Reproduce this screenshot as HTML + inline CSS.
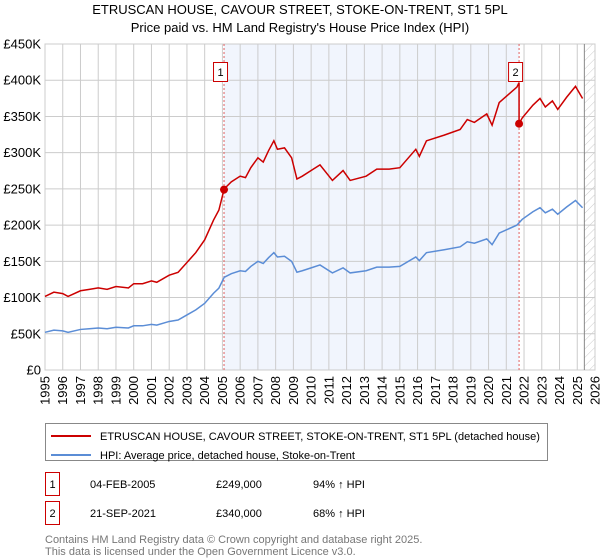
<!DOCTYPE html>
<html><head><meta charset="utf-8"><style>
body{margin:0;background:#fff;font-family:"Liberation Sans","DejaVu Sans",sans-serif;}
#wrap{position:relative;width:600px;height:560px;overflow:hidden}
</style></head><body>
<div id="wrap">
<svg id="chart" width="600" height="560" style="position:absolute;left:0;top:0">
<defs><pattern id="hatch" width="6" height="6" patternUnits="userSpaceOnUse" patternTransform="rotate(45)"><line x1="0" y1="0" x2="0" y2="6" stroke="#ccc" stroke-width="1"/></pattern></defs>
</svg>
</div>
<script>
const years=[1995,1995.5,1996,1996.3,1997,1997.5,1998,1998.5,1999,1999.7,2000,2000.5,2001,2001.3,2002,2002.5,2003,2003.5,2004,2004.5,2004.8,2005.1,2005.5,2006,2006.3,2006.6,2007,2007.3,2007.6,2007.9,2008.1,2008.5,2008.9,2009.2,2009.5,2010,2010.5,2011.2,2011.8,2012.2,2013.1,2013.7,2014.4,2015,2015.9,2016.1,2016.5,2017.5,2018.4,2018.8,2019.2,2019.9,2020.2,2020.6,2021.6,2021.9,2022.5,2022.9,2023.2,2023.6,2023.9,2024.4,2024.9,2025.3];
const hpi=[52,55,54,52,56,57,58,57,59,58,61,61,63,62,67,69,76,83,92,106,113,128,133,137,136,143,150,147,155,162,156,157,150,135,137,141,145,134,141,134,137,142,142,143,156,151,162,166,170,177,175,181,173,189,200,208,218.5,224,217,222,215,225,234,224];
const saleYears=[2005.09,2021.72];
const salePrices=[249,340];
const yTicks=[0,50,100,150,200,250,300,350,400,450];
const yLabels=["£0","£50K","£100K","£150K","£200K","£250K","£300K","£350K","£400K","£450K"];
const xTicks=[1995,1996,1997,1998,1999,2000,2001,2002,2003,2004,2005,2006,2007,2008,2009,2010,2011,2012,2013,2014,2015,2016,2017,2018,2019,2020,2021,2022,2023,2024,2025,2026];

const L=45,R=595,T=44,B=370;
const X=y=>L+(y-1995)/(2026-1995)*(R-L);
const Y=v=>B-v/450*(B-T);
const svg=document.getElementById('chart');
const NS='http://www.w3.org/2000/svg';
function mk(tag,attrs,parent){const e=document.createElementNS(NS,tag);for(const k in attrs)e.setAttribute(k,attrs[k]);(parent||svg).appendChild(e);return e;}
function interp(y){for(let i=0;i<years.length-1;i++){if(y>=years[i]&&y<=years[i+1]){const t=(y-years[i])/(years[i+1]-years[i]);return hpi[i]+t*(hpi[i+1]-hpi[i]);}}return hpi[hpi.length-1];}

let t=mk('text',{x:300,y:14,'text-anchor':'middle','font-size':13,fill:'#000'});t.textContent="ETRUSCAN HOUSE, CAVOUR STREET, STOKE-ON-TRENT, ST1 5PL";

t=mk('text',{x:300,y:32,'text-anchor':'middle','font-size':13,fill:'#000'});t.textContent="Price paid vs. HM Land Registry's House Price Index (HPI)";


let sh=mk('rect',{x:X(saleYears[0]),y:T,width:X(saleYears[1])-X(saleYears[0]),height:B-T,fill:'#eef2fc',opacity:0.8});

let ht=mk('rect',{x:X(2025.4),y:T,width:R-X(2025.4),height:B-T,fill:'url(#hatch)'});


yTicks.forEach((v,i)=>{
 const g=mk('line',{x1:L,x2:R,y1:Y(v),y2:Y(v),stroke:'#cccccc','stroke-width':1});
 
 const tx=mk('text',{x:L-4,y:Y(v)+4.5,'text-anchor':'end','font-size':13,fill:'#000'});tx.textContent=yLabels[i];
 
});
xTicks.forEach(y=>{
 const g=mk('line',{x1:X(y),x2:X(y),y1:T,y2:B,stroke:'#cccccc','stroke-width':1});
 
 const tx=mk('text',{x:0,y:0,'text-anchor':'end','font-size':13,fill:'#000',transform:`translate(${X(y)+4.5},${B+6}) rotate(-90)`});tx.textContent=y;
 
});
let bx=mk('rect',{x:L,y:T,width:R-L,height:B-T,fill:'none',stroke:'#cccccc'});

let ln=mk('line',{x1:X(2025.4),x2:X(2025.4),y1:T,y2:B,stroke:'#888','stroke-width':1});


saleYears.forEach((sy,i)=>{
 const v=mk('line',{x1:X(sy),x2:X(sy),y1:T,y2:B,stroke:'#e06060','stroke-width':1,'stroke-dasharray':'2,2'});
 
 const r=mk('rect',{x:X(sy)-10.5,y:62.5,width:14,height:19,fill:'#fff',stroke:'#cc0000'});
 
 const tx=mk('text',{x:X(sy)-3.5,y:76,'text-anchor':'middle','font-size':11,fill:'#000'});tx.textContent=i+1;
 
});

const hp=mk('polyline',{points:years.map((y,i)=>X(y)+','+Y(hpi[i])).join(' '),fill:'none',stroke:'#5b8dd6','stroke-width':1.5});


const r1=salePrices[0]/interp(saleYears[0]),r2=salePrices[1]/interp(saleYears[1]);
let pts=[];
years.forEach((y,i)=>{ if(y<saleYears[1]) pts.push([X(y),Y(hpi[i]*r1)]); });
pts.push([X(saleYears[1]),Y(interp(saleYears[1])*r1)]);
pts.push([X(saleYears[1]),Y(salePrices[1])]);
years.forEach((y,i)=>{ if(y>saleYears[1]) pts.push([X(y),Y(hpi[i]*r2)]); });
const pl=mk('polyline',{points:pts.map(p=>p.join(',')).join(' '),fill:'none',stroke:'#cc0000','stroke-width':1.5});

saleYears.forEach((sy,i)=>{
 const c=mk('circle',{cx:X(sy),cy:Y(salePrices[i]),r:4,fill:'#cc0000'});
 
});

let lg=mk('rect',{x:45.5,y:423.5,width:502,height:37,fill:'#fff',stroke:'#888'});

let l1=mk('line',{x1:51,x2:91,y1:436,y2:436,stroke:'#cc0000','stroke-width':2});

t=mk('text',{x:100,y:440,'font-size':11,fill:'#000'});t.textContent="ETRUSCAN HOUSE, CAVOUR STREET, STOKE-ON-TRENT, ST1 5PL (detached house)";

let l2=mk('line',{x1:51,x2:91,y1:455,y2:455,stroke:'#5b8dd6','stroke-width':2});

t=mk('text',{x:100,y:459,'font-size':11,fill:'#000'});t.textContent="HPI: Average price, detached house, Stoke-on-Trent";


const rows=[["1","04-FEB-2005","£249,000","94% ↑ HPI",484],["2","21-SEP-2021","£340,000","68% ↑ HPI",513]];
rows.forEach(r=>{
 const b=mk('rect',{x:45.5,y:r[4]-11.5,width:14,height:23,fill:'#fff',stroke:'#cc0000'});
 
 let s=mk('text',{x:52.5,y:r[4]+4,'text-anchor':'middle','font-size':11});s.textContent=r[0];
 
 s=mk('text',{x:90,y:r[4]+4,'font-size':11});s.textContent=r[1];
 
 s=mk('text',{x:216,y:r[4]+4,'font-size':11});s.textContent=r[2];
 
 s=mk('text',{x:313,y:r[4]+4,'font-size':11});s.textContent=r[3];
 
});
t=mk('text',{x:45,y:543,'font-size':11,fill:'#777'});t.textContent="Contains HM Land Registry data © Crown copyright and database right 2025.";

t=mk('text',{x:45,y:555,'font-size':11,fill:'#777'});t.textContent="This data is licensed under the Open Government Licence v3.0.";

</script>
</body></html>
